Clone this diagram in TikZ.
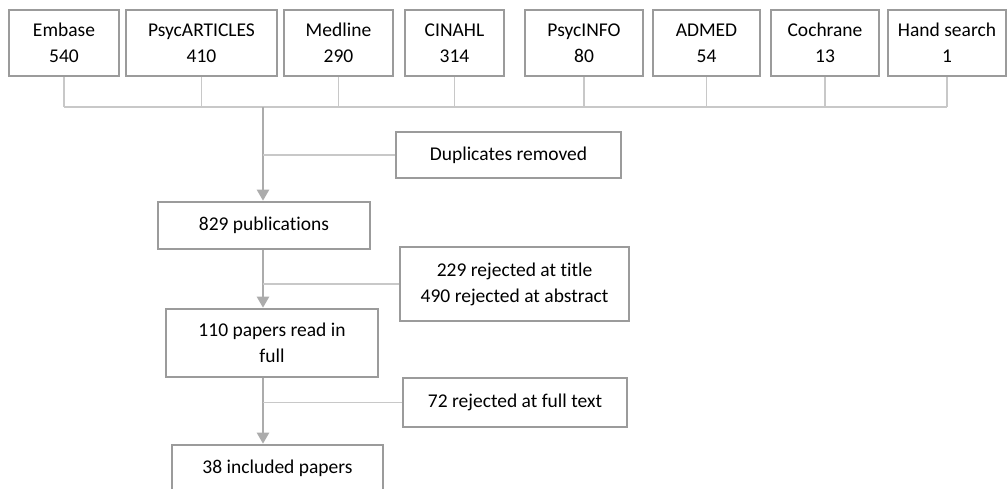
\documentclass[tikz,border=0pt]{standalone}
\usepackage{fontspec}
\setmainfont{Carlito}[Ligatures=NoCommon]
\usetikzlibrary{arrows.meta}

\definecolor{boxgray}{RGB}{155,155,155}
\definecolor{busgray}{RGB}{200,200,200}
\definecolor{flowgray}{RGB}{172,172,172}

\tikzset{
  srcbox/.style={draw=boxgray, line width=2.6pt, fill=white, inner sep=0pt,
    align=center, font=\fontsize{19.5}{26}\selectfont},
  bus/.style={draw=busgray, line width=1.4pt},
  flow/.style={draw=flowgray, line width=2.4pt,
    -{Triangle[width=12pt,length=11pt,fill=flowgray]}}
}

\begin{document}
\begin{tikzpicture}[x=1pt,y=-1pt]

	\useasboundingbox (0,0) rectangle (1008,488);

	% Bases de datos
	\node[srcbox, minimum width=110, minimum height=66] (embase) at (64,43) {Embase\\540};
	\node[srcbox, minimum width=151, minimum height=66] (psycart) at (201.5,43) {PsycARTICLES\\410};
	\node[srcbox, minimum width=109, minimum height=66] (medline) at (338.5,43) {Medline\\290};
	\node[srcbox, minimum width=99, minimum height=66] (cinahl) at (454.5,43) {CINAHL\\314};
	\node[srcbox, minimum width=118, minimum height=66] (psycinfo) at (584,43) {PsycINFO\\80};
	\node[srcbox, minimum width=107, minimum height=66] (admed) at (706.5,43) {ADMED\\54};
	\node[srcbox, minimum width=108, minimum height=66] (cochrane) at (825,43) {Cochrane\\13};
	\node[srcbox, minimum width=118, minimum height=66] (hand) at (947,43) {Hand search\\1};

	% Pasos
	\node[srcbox, minimum width=212, minimum height=47] (pub) at (264,225.5) {829 publications};
	\node[srcbox, minimum width=212, minimum height=68] (read) at (272,343) {110 papers read in\\full};
	\node[srcbox, minimum width=211, minimum height=47] (incl) at (277.5,468.5) {38 included papers};

	% Exclusiones
	\node[srcbox, minimum width=225, minimum height=46] (dup) at (508.5,155) {Duplicates removed};
	\node[srcbox, minimum width=229, minimum height=74] (rejabs) at (514.5,284) {229 rejected at title\\490 rejected at abstract};
	\node[srcbox, minimum width=224, minimum height=49] (rejfull) at (515,402.5) {72 rejected at full text};

	% Barra de union
	\coordinate (bus) at (263,107);
	\foreach \src in {embase,psycart,medline,cinahl,psycinfo,admed,cochrane,hand}
		\draw[bus] (\src.south) -- (\src.south |- bus);
	\draw[bus] (embase.south |- bus) -- (hand.south |- bus);

	% Flujo principal
	\draw[flow] (bus) -- (bus |- pub.north);
	\draw[flow] (bus |- pub.south) -- (bus |- read.north);
	\draw[flow] (bus |- read.south) -- (bus |- incl.north);

	% Ramas
	\draw[bus] (bus |- dup.west) -- (dup.west);
	\draw[bus] (bus |- rejabs.west) -- (rejabs.west);
	\draw[bus] (bus |- rejfull.west) -- (rejfull.west);

\end{tikzpicture}
\end{document}
